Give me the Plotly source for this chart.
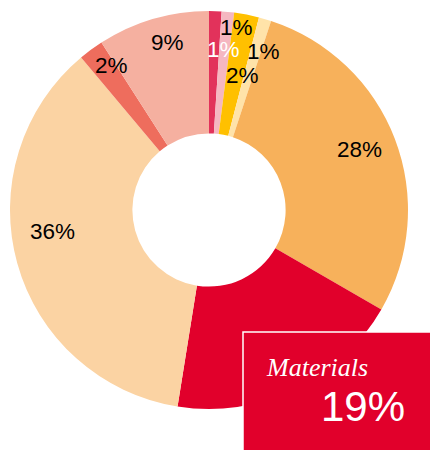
import math
import plotly.graph_objects as go

# Share of total by category, clockwise from 12 o'clock
categories = ["A", "B", "C", "D", "E", "Materials", "F", "G", "H"]
shares = [1, 1, 2, 1, 28, 19, 36, 2, 9]
colors = ["#E2325B", "#F5B7C1", "#FFC000", "#FFE3A9", "#F7B15B",
          "#E1002B", "#FBD3A3", "#EE6D5D", "#F5B0A0"]
label_colors = ["white", "black", "black", "black", "black",
                "white", "black", "black", "black"]
# label placement: angular nudge (deg) and radius (px) for each slice label
label_nudge = [3.5, 3.0, 3.2, 2.7, -1.0, 0.0, 7.5, 2.4, 2.4]
label_radius = [161, 185, 139, 168, 162, 0, 158, 174, 173]
highlight = "Materials"

W, H = 430, 450
cx, cy, R = 209, 210, 199
hole = 0.385

fig = go.Figure(go.Pie(
    labels=categories, values=shares, sort=False, direction="clockwise",
    rotation=0, hole=hole, textinfo="none", hoverinfo="label+value",
    marker=dict(colors=colors, line=dict(width=0)),
    domain=dict(x=[(cx - R) / W, (cx + R) / W],
                y=[(H - cy - R) / H, (H - cy + R) / H]),
    showlegend=False,
))

total = sum(shares)
cum = 0.0
annotations = []
for cat, v, col, nud, rad in zip(categories, shares, label_colors,
                                 label_nudge, label_radius):
    mid = (cum + v / 2) / total * 360.0
    cum += v
    if cat == highlight:
        continue
    th = math.radians(mid + nud)
    px = cx + rad * math.sin(th)
    py = cy - rad * math.cos(th)
    annotations.append(dict(
        x=px / W, y=(H - py) / H, xref="paper", yref="paper",
        text=f"{v}%", showarrow=False,
        font=dict(family="Liberation Sans, Arial", size=22.5, color=col),
        xanchor="center", yanchor="middle"))

# highlighted category callout
hv = shares[categories.index(highlight)]
bx0, by0 = 243, 332
annotations.append(dict(
    x=264 / W, y=(H - 367) / H, xref="paper", yref="paper",
    text=f"<i>{highlight}</i>", showarrow=False,
    font=dict(family="Liberation Serif, DejaVu Serif", size=26, color="white"),
    xanchor="left", yanchor="middle"))
annotations.append(dict(
    x=407 / W, y=(H - 406) / H, xref="paper", yref="paper",
    text=f"{hv}%", showarrow=False,
    font=dict(family="Liberation Sans, Arial", size=42, color="white"),
    xanchor="right", yanchor="middle"))

fig.update_layout(
    width=W, height=H, margin=dict(l=0, r=0, t=0, b=0),
    paper_bgcolor="white", plot_bgcolor="white",
    shapes=[dict(type="rect", xref="paper", yref="paper",
                 x0=bx0 / W, x1=1.02, y0=-0.02, y1=(H - by0) / H,
                 fillcolor=colors[categories.index(highlight)],
                 line=dict(color="white", width=1.5), layer="above")],
    annotations=annotations,
)

fig.write_html("out.html")
